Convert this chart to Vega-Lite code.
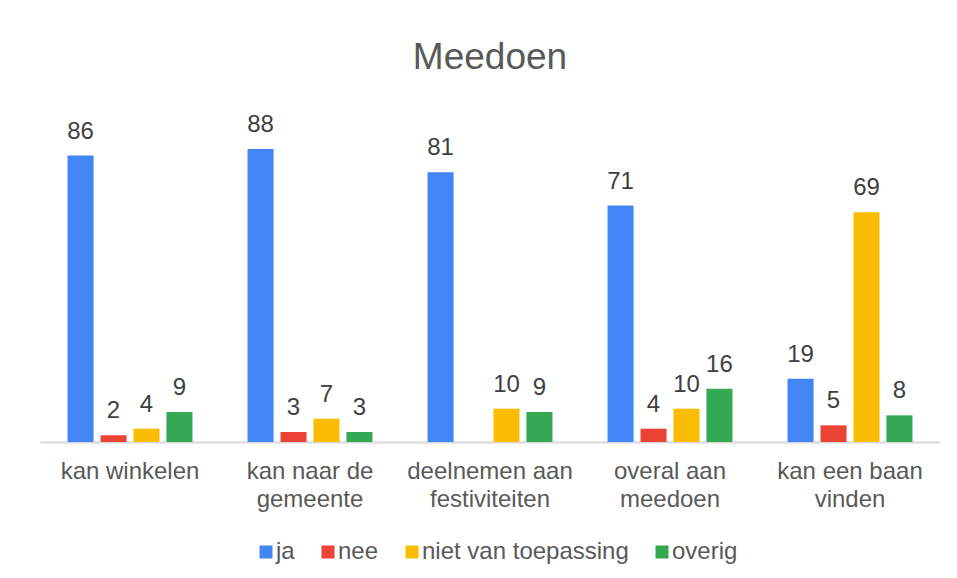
{
  "$schema": "https://vega.github.io/schema/vega-lite/v6.json",
  "width": 900,
  "height": 333,
  "autosize": "none",
  "padding": {"left": 40, "top": 109, "right": 17, "bottom": 136},
  "background": "white",
  "title": {"text": "Meedoen", "fontSize": 37, "font": "Liberation Sans", "fontWeight": "normal", "color": "#595959", "anchor": "middle", "offset": 32},
  "data": {"values": [
    {"cat": "kan winkelen", "series": "ja", "value": 86},
    {"cat": "kan winkelen", "series": "nee", "value": 2},
    {"cat": "kan winkelen", "series": "niet van toepassing", "value": 4},
    {"cat": "kan winkelen", "series": "overig", "value": 9},
    {"cat": "kan naar de gemeente", "series": "ja", "value": 88},
    {"cat": "kan naar de gemeente", "series": "nee", "value": 3},
    {"cat": "kan naar de gemeente", "series": "niet van toepassing", "value": 7},
    {"cat": "kan naar de gemeente", "series": "overig", "value": 3},
    {"cat": "deelnemen aan festiviteiten", "series": "ja", "value": 81},
    {"cat": "deelnemen aan festiviteiten", "series": "niet van toepassing", "value": 10},
    {"cat": "deelnemen aan festiviteiten", "series": "overig", "value": 9},
    {"cat": "overal aan meedoen", "series": "ja", "value": 71},
    {"cat": "overal aan meedoen", "series": "nee", "value": 4},
    {"cat": "overal aan meedoen", "series": "niet van toepassing", "value": 10},
    {"cat": "overal aan meedoen", "series": "overig", "value": 16},
    {"cat": "kan een baan vinden", "series": "ja", "value": 19},
    {"cat": "kan een baan vinden", "series": "nee", "value": 5},
    {"cat": "kan een baan vinden", "series": "niet van toepassing", "value": 69},
    {"cat": "kan een baan vinden", "series": "overig", "value": 8}
  ]},
  "encoding": {
    "x": {"field": "cat", "type": "nominal", "sort": null,
      "scale": {"paddingInner": 0.306, "paddingOuter": 0.153},
      "axis": {"title": null, "labelAngle": 0, "labelFontSize": 24, "labelFont": "Liberation Sans", "labelColor": "#595959", "labelPadding": 17, "labelLineHeight": 28, "labelLimit": 300,
        "labelExpr": "datum.label == 'kan winkelen' ? datum.label : [substring(datum.label, 0, lastindexof(datum.label, ' ')), substring(datum.label, lastindexof(datum.label, ' ') + 1)]",
        "ticks": false, "grid": false, "domainColor": "#d9d9d9", "domainWidth": 2}},
    "xOffset": {"field": "series", "type": "nominal", "sort": ["ja", "nee", "niet van toepassing", "overig"], "scale": {"paddingInner": 0.21, "paddingOuter": 0}},
    "y": {"field": "value", "type": "quantitative", "scale": {"domain": [0, 100]}, "axis": null}
  },
  "layer": [
    {"mark": {"type": "bar"},
     "encoding": {"color": {"field": "series", "type": "nominal", "sort": ["ja", "nee", "niet van toepassing", "overig"],
       "scale": {"domain": ["ja", "nee", "niet van toepassing", "overig"], "range": ["#4285F4", "#EA4335", "#FBBC04", "#34A853"]},
       "legend": {"title": null, "orient": "none", "legendX": 214, "legendY": 431, "direction": "horizontal", "symbolType": "square", "symbolSize": 169, "symbolStrokeWidth": 0, "labelFontSize": 24, "labelFont": "Liberation Sans", "labelColor": "#595959", "labelOffset": -2, "labelLimit": 400, "columnPadding": 21}}}},
    {"mark": {"type": "text", "baseline": "alphabetic", "dy": -17, "fontSize": 24, "font": "Liberation Sans", "color": "#404040"},
     "encoding": {"text": {"field": "value", "type": "quantitative"}}}
  ],
  "config": {"view": {"stroke": null}}
}
